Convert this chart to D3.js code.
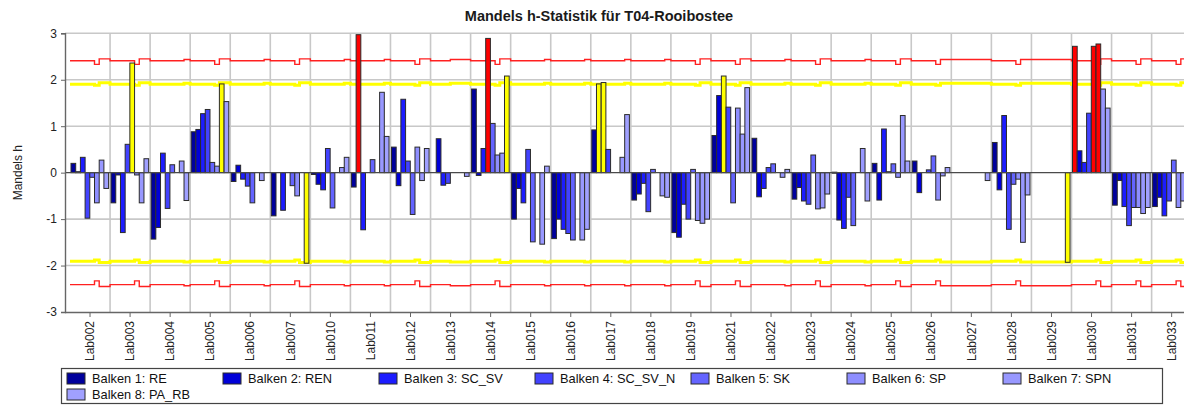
<!DOCTYPE html>
<html>
<head>
<meta charset="utf-8">
<title>Mandels h-Statistik</title>
<script src="https://cdn.jsdelivr.net/npm/d3@7"></script>
<style>
  body { margin: 0; background: #fff; }
  svg { display: block; font-family: "Liberation Sans", Arial, sans-serif; }
</style>
</head>
<body>
<svg id="chart" width="1184" height="405"></svg>
<script>
'use strict';

// Labs on the x axis
var labs = ['Lab002', 'Lab003', 'Lab004', 'Lab005', 'Lab006', 'Lab007', 'Lab010',
  'Lab011', 'Lab012', 'Lab013', 'Lab014', 'Lab015', 'Lab016', 'Lab017', 'Lab018',
  'Lab019', 'Lab021', 'Lab022', 'Lab023', 'Lab024', 'Lab025', 'Lab026', 'Lab027',
  'Lab028', 'Lab029', 'Lab030', 'Lab031', 'Lab033'];

var seriesNames = ['Balken 1: RE', 'Balken 2: REN', 'Balken 3: SC_SV', 'Balken 4: SC_SV_N',
  'Balken 5: SK', 'Balken 6: SP', 'Balken 7: SPN', 'Balken 8: PA_RB'];

// h values per property, one per lab (null = no value)
var re = [0.2, -0.65, -1.43, 0.88, -0.19, -0.93, -0.04, -0.31, 0.55, null, 1.8, -1.0, -1.42, 0.92,
  -0.59, -1.29, 0.8, 0.74, -0.57, 0.01, 0.2, 0.25, null, 0.65, null, 2.72, -0.7, -0.73];
var ren = [0.02, -0.05, -1.18, 0.93, 0.16, null, -0.25, 2.97, -0.28, 0.73, -0.06, -0.34, -1.0, 1.91,
  -0.46, -1.39, 1.66, -0.52, -0.32, -1.02, -0.59, -0.43, null, -0.37, null, 0.47, -0.17, -0.53];
var scSv = [0.33, -1.29, 0.42, 1.27, -0.14, -0.81, -0.37, -1.23, 1.58, -0.27, 0.52, -0.65, -1.22, 1.94,
  -0.23, -0.68, 2.08, -0.34, -0.61, -1.2, 0.94, null, null, 1.23, null, 0.22, -0.73, -0.93];
var scSvN = [-0.98, 0.61, -0.77, 1.36, -0.29, null, 0.52, null, 0.25, -0.23, 2.89, 0.5, -1.31, 0.5,
  -0.84, -1.0, 1.41, 0.11, -0.68, -0.53, 0.02, 0.06, null, -1.22, null, 1.28, -1.14, -0.61];
var sk = [-0.1, 2.36, 0.17, 0.22, -0.65, -0.28, -0.76, 0.28, -0.9, null, 1.06, -1.49, -1.45, null,
  0.07, 0.07, -0.65, 0.19, 0.38, -1.14, 0.19, 0.36, null, -0.25, null, 2.72, -0.75, 0.27];
var sp = [-0.65, -0.05, null, 0.14, null, -0.5, null, null, 0.55, null, 0.38, null, null, null,
  null, -1.03, 1.39, null, -0.78, null, -0.1, -0.59, null, -0.14, null, 2.77, -0.75, -0.75];
var spn = [0.27, -0.65, 0.25, 1.91, -0.17, null, 0.11, 1.73, -0.17, null, 0.42, -1.54, -1.45, 0.33,
  -0.5, -1.09, 0.83, -0.1, -0.76, 0.52, 1.23, -0.07, null, -1.5, null, 1.8, -0.88, -0.61];
var paRb = [-0.34, 0.3, -0.6, 1.53, null, -1.95, 0.33, 0.78, 0.52, -0.08, 2.08, 0.14, -1.22, 1.25,
  -0.53, -1.0, 1.83, 0.07, -0.46, -0.61, 0.25, 0.11, -0.17, -0.48, -1.93, 1.39, -0.75, -0.5];

// critical value steps per lab, one char per bar slot:
// 0 = normal, d = lower, u = higher, r = slightly higher
var critPattern = ['00000duu', '00000duu', '0000000r', '00000duu', '0000000r', '00000duu',
  '0000000r', '0000000r', '00000duu', '0000rrrr', '00000duu', '0000000r', '0000000r',
  '0000000r', '0000000r', '00000duu', '00000duu', '0000000r', '00000duu', '0000000r',
  '00000duu', '00000drr', 'rrrrrrrr', '00000drr', 'rrrrrrrr', '00000duu', '00000duu', '00000duu'];
var redLevels = {'0': 2.41, d: 2.33, u: 2.45, r: 2.435};
var yellowLevels = {'0': 1.905, d: 1.88, u: 1.935, r: 1.925};
// limits used to colour a bar
var yellowLimit = 1.9;
var redLimit = 2.41;

var yTicks = [-3, -2, -1, 0, 1, 2, 3];

var series = [re, ren, scSv, scSvN, sk, sp, spn, paRb];
var seriesColors = ['#00009c', '#0000d8', '#1c1cff', '#4242ff', '#6464ff', '#8e8eff', '#9898ff', '#a0a0ff'];

var svg = d3.select('#chart'),
    plotLeft = 65,
    plotTop = 33.3,
    plotBottom = 312,
    bandStart = 70,
    bandStep = 40.06;

svg.append('rect').attr('width', 1184).attr('height', 405).attr('fill', '#fff');

var x = d3.scaleBand()
  .domain(labs)
  .range([bandStart, bandStart + bandStep * labs.length])
  .padding(0);

var inner = d3.scaleBand()
  .domain(seriesNames)
  .range([1, 38.6]);

var y = d3.scaleLinear()
  .domain([-3, 3])
  .range([plotBottom, plotTop]);

svg.append('defs').append('clipPath').attr('id', 'plotClip')
  .append('rect')
    .attr('x', plotLeft)
    .attr('y', 0)
    .attr('width', 1184 - plotLeft)
    .attr('height', plotBottom + 0.5);

/**
 * Grid lines
 */
var grid = svg.append('g').attr('clip-path', 'url(#plotClip)');

grid.selectAll('line.h')
  .data(yTicks.filter(function (d) { return d !== 0 && d !== -3; }))
  .enter()
  .append('line')
    .attr('class', 'h')
    .attr('x1', plotLeft)
    .attr('x2', 1184)
    .attr('y1', function (d) { return y(d); })
    .attr('y2', function (d) { return y(d); })
    .attr('stroke', '#c8c8c8')
    .attr('stroke-width', 1.6);

grid.selectAll('line.v')
  .data(labs.slice(1))
  .enter()
  .append('line')
    .attr('class', 'v')
    .attr('x1', function (d) { return x(d); })
    .attr('x2', function (d) { return x(d); })
    .attr('y1', plotTop)
    .attr('y2', plotBottom)
    .attr('stroke', '#c8c8c8')
    .attr('stroke-width', 1.6);

/**
 * Critical value step lines (upper and lower)
 */
function critPoints(levels, sign) {
  var pts = [];
  labs.forEach(function (lab, i) {
    seriesNames.forEach(function (name, k) {
      var px = k === 0 ? x(lab) : x(lab) + inner(name);
      pts.push([px, sign * levels[critPattern[i].charAt(k)]]);
    });
  });
  pts.push([x.range()[1], pts[pts.length - 1][1]]);
  return pts;
}

var critLine = d3.line()
  .x(function (d) { return d[0]; })
  .y(function (d) { return y(d[1]); })
  .curve(d3.curveStepAfter);

var limits = svg.append('g').attr('clip-path', 'url(#plotClip)');

[[yellowLevels, '#ffff00', 3], [redLevels, '#ff2020', 1.4]].forEach(function (cfg) {
  [1, -1].forEach(function (sign) {
    limits.append('path')
      .attr('d', critLine(critPoints(cfg[0], sign)))
      .attr('fill', 'none')
      .attr('stroke', cfg[1])
      .attr('stroke-width', cfg[2]);
  });
});

/**
 * Bars
 */
var barData = [];
series.forEach(function (values, k) {
  values.forEach(function (v, i) {
    if (v !== null) {
      barData.push({lab: labs[i], name: seriesNames[k], k: k, v: v});
    }
  });
});

function barColor(d) {
  var a = Math.abs(d.v);
  if (a > redLimit) { return '#ff0000'; }
  if (a > yellowLimit) { return '#ffff00'; }
  return seriesColors[d.k];
}

svg.append('g').attr('clip-path', 'url(#plotClip)')
  .selectAll('rect')
  .data(barData)
  .enter()
  .append('rect')
    .attr('x', function (d) { return x(d.lab) + inner(d.name); })
    .attr('width', inner.bandwidth())
    .attr('y', function (d) { return y(Math.max(0, d.v)); })
    .attr('height', function (d) { return Math.max(1, Math.abs(y(d.v) - y(0))); })
    .attr('fill', barColor)
    .attr('stroke', '#2b2b2b')
    .attr('stroke-width', 1);

// zero line
svg.append('line')
  .attr('x1', plotLeft)
  .attr('x2', 1184)
  .attr('y1', y(0))
  .attr('y2', y(0))
  .attr('stroke', '#4a4a4a')
  .attr('stroke-width', 1.4);

/**
 * Axes
 */
var yAxis = svg.append('g')
  .attr('transform', 'translate(' + plotLeft + ',0)')
  .call(d3.axisLeft(y)
    .tickValues(yTicks)
    .tickSize(4)
    .tickPadding(4)
    .tickFormat(function (d) { return String(d); }));

var xAxis = svg.append('g')
  .attr('transform', 'translate(0,' + plotBottom + ')')
  .call(d3.axisBottom(x).tickSize(5).tickSizeOuter(0));

xAxis.select('.domain').attr('d', 'M' + plotLeft + ',0.5H1184');

xAxis.selectAll('.tick text')
  .attr('transform', 'rotate(-90)')
  .attr('text-anchor', 'end')
  .attr('x', -9)
  .attr('y', 0)
  .attr('dy', '0.35em');

[yAxis, xAxis].forEach(function (ax) {
  ax.selectAll('.domain').attr('stroke', '#666').attr('stroke-width', 1.4);
  ax.selectAll('.tick line').attr('stroke', '#666');
  ax.selectAll('.tick text')
    .attr('fill', '#222')
    .style('font-size', '12px')
    .style('font-family', '"Liberation Sans", Arial, sans-serif');
});

// title and axis label
svg.append('text')
  .attr('x', 599)
  .attr('y', 21)
  .attr('text-anchor', 'middle')
  .style('font-size', '14.5px')
  .style('font-weight', 'bold')
  .attr('fill', '#1a1a1a')
  .text('Mandels h-Statistik für T04-Rooibostee');

svg.append('text')
  .attr('transform', 'translate(22,' + y(0) + ') rotate(-90)')
  .attr('text-anchor', 'middle')
  .style('font-size', '12px')
  .attr('fill', '#222')
  .text('Mandels h');

/**
 * Legend
 */
var legend = svg.append('g');

legend.append('rect')
  .attr('x', 61.5)
  .attr('y', 368.5)
  .attr('width', 1101)
  .attr('height', 35)
  .attr('fill', '#fff')
  .attr('stroke', '#444')
  .attr('stroke-width', 1.2);

var item = legend.selectAll('g.item')
  .data(seriesNames)
  .enter()
  .append('g')
    .attr('class', 'item')
    .attr('transform', function (d, i) {
      return 'translate(' + (67 + 156 * (i % 7)) + ',' + (373 + 16 * Math.floor(i / 7)) + ')';
    });

item.append('rect')
  .attr('width', 18)
  .attr('height', 11)
  .attr('fill', function (d, i) { return seriesColors[i]; })
  .attr('stroke', '#2b2b2b');

item.append('text')
  .attr('x', 25)
  .attr('y', 10)
  .style('font-size', '12.8px')
  .attr('fill', '#111')
  .text(function (d) { return d; });
</script>
</body>
</html>
